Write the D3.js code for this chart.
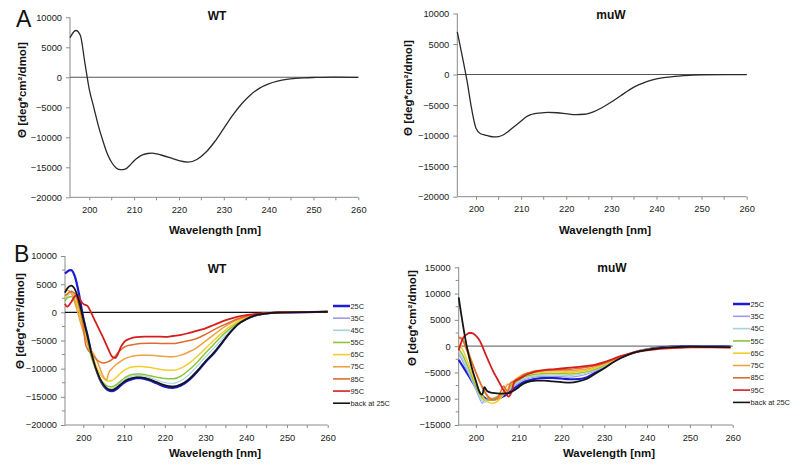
<!DOCTYPE html>
<html><head><meta charset="utf-8">
<script src="https://cdn.jsdelivr.net/npm/d3@7/dist/d3.min.js"></script>
<style>
html,body{margin:0;padding:0;background:#fff;}
svg{display:block;font-family:"Liberation Sans",Arial,sans-serif;}
</style></head>
<body>
<svg id="c" width="800" height="466"></svg>
<script>
// ---------------- DATA ----------------
const panelTitles = ["WT", "muW", "WT", "muW"];
const panelLetters = ["A", "B"];
const xTickLabels = [200, 210, 220, 230, 240, 250, 260];
const yTicksTop = [10000, 5000, 0, -5000, -10000, -15000, -20000];
const yTicksBWT = [10000, 5000, 0, -5000, -10000, -15000, -20000];
const yTicksBmuW = [15000, 10000, 5000, 0, -5000, -10000, -15000];
const seriesNames = ["25C", "35C", "45C", "55C", "65C", "75C", "85C", "95C", "back at 25C"];
const seriesColors = ["#1c1cd6", "#9a9aee", "#a3d4da", "#8dc43c", "#f3cd2e", "#eea042", "#de6c2c", "#d41e1e", "#151515"];

// Panel A, WT  [wavelength nm, theta]
const topWT = [[195.7,6600],[196,7000],[197,7800],[198,7000],[199,2500],[200,-2000],[201,-5000],[202,-8000],[203,-10500],[204,-12700],[205,-14200],[206,-15100],[207,-15400],[208,-15300],[209,-14700],[210,-13900],[211,-13300],[212,-12900],[213,-12700],[214,-12650],[215,-12750],[216,-12950],[218,-13400],[220,-13900],[222,-14150],[224,-13700],[226,-12500],[228,-10700],[230,-8500],[232,-6300],[234,-4400],[236,-2900],[238,-1800],[240,-1100],[242,-650],[244,-350],[246,-180],[248,-80],[250,-30],[252,0],[255,20],[260,-20]];
// Panel A, muW
const topMuW = [[195.85,7000],[197,2800],[198,-1000],[199,-5500],[200,-8800],[201,-9700],[202,-9900],[203,-10100],[204,-10200],[205,-10150],[206,-9900],[207,-9400],[208,-8800],[209,-8200],[210,-7600],[211,-7000],[212,-6600],[213,-6400],[214,-6300],[216,-6200],[218,-6250],[220,-6400],[222,-6550],[224,-6500],[226,-6100],[228,-5400],[230,-4500],[232,-3500],[234,-2500],[236,-1700],[238,-1100],[240,-700],[242,-450],[244,-300],[246,-180],[248,-80],[250,-30],[255,0],[260,0]];

// Panel B, WT
const wt25 = [[195.5,6900],[196,7200],[196.5,7450],[197,7500],[198,6200],[199,3000],[200,-1000],[201,-4000],[202,-7200],[203,-9800],[204,-11800],[205,-13100],[206,-13800],[207,-14000],[208,-13700],[209,-13100],[210,-12500],[211,-12100],[212,-11850],[213,-11700],[214,-11700],[215,-11800],[216,-12000],[218,-12600],[220,-13200],[222,-13400],[224,-13000],[226,-12000],[228,-10500],[230,-8800],[232,-7300],[234,-5500],[236,-3600],[238,-2100],[240,-1200],[242,-600],[244,-300],[246,-120],[248,-30],[250,0],[255,50],[260,100]];
const wt35 = [[195.5,2500],[196,3200],[197,3800],[198,3000],[199,800],[200,-2200],[201,-5000],[202,-7800],[203,-10000],[204,-11800],[205,-13000],[206,-13600],[207,-13800],[208,-13500],[209,-12900],[210,-12300],[211,-11900],[212,-11600],[213,-11500],[214,-11500],[215,-11600],[216,-11800],[218,-12400],[220,-12900],[222,-13100],[224,-12700],[226,-11700],[228,-10200],[230,-8600],[232,-7100],[234,-5400],[236,-3550],[238,-2050],[240,-1150],[242,-600],[244,-300],[246,-120],[248,-30],[250,0],[255,50],[260,100]];
const wt45 = [[195.5,2200],[196,2800],[197,3300],[198,2600],[199,500],[200,-2500],[201,-5300],[202,-7900],[203,-10000],[204,-11700],[205,-12800],[206,-13400],[207,-13500],[208,-13200],[209,-12600],[210,-12000],[211,-11600],[212,-11300],[213,-11200],[214,-11200],[215,-11300],[216,-11500],[218,-12000],[220,-12450],[222,-12600],[224,-12100],[226,-11000],[228,-9500],[230,-7900],[232,-6400],[234,-4800],[236,-3250],[238,-2000],[240,-1100],[242,-580],[244,-280],[246,-110],[248,-30],[250,0],[255,50],[260,100]];
const wt55 = [[195.5,2000],[196,2500],[197,2800],[198,2000],[199,0],[200,-2800],[201,-5500],[202,-8000],[203,-10000],[204,-11600],[205,-12600],[206,-13100],[207,-13200],[208,-12900],[209,-12300],[210,-11700],[211,-11300],[212,-11050],[213,-10950],[214,-10950],[215,-11050],[216,-11200],[218,-11500],[220,-11750],[222,-11800],[224,-11300],[226,-10200],[228,-8800],[230,-7200],[232,-5700],[234,-4200],[236,-2900],[238,-1800],[240,-1050],[242,-550],[244,-270],[246,-100],[248,-30],[250,0],[255,50],[260,100]];
const wt65 = [[195.5,2500],[196,3200],[197,3600],[198,2500],[199,300],[200,-2500],[201,-5000],[202,-7300],[203,-9300],[204,-10800],[205,-11800],[206,-12200],[207,-12100],[208,-11600],[209,-10900],[210,-10300],[211,-9900],[212,-9700],[213,-9600],[214,-9600],[215,-9650],[216,-9750],[218,-10000],[220,-10250],[222,-10300],[224,-9900],[226,-9000],[228,-7800],[230,-6400],[232,-5000],[234,-3700],[236,-2500],[238,-1600],[240,-950],[242,-500],[244,-250],[246,-100],[248,-30],[250,0],[255,50],[260,100]];
const wt75 = [[195.5,4200],[196,4000],[197,3500],[198,1500],[199,-1000],[200,-3500],[201,-5500],[202,-6800],[203,-8000],[204,-9800],[205,-11500],[205.7,-12000],[206.2,-10800],[207,-10000],[208,-9300],[209,-8800],[210,-8300],[212,-7800],[214,-7600],[216,-7600],[218,-7700],[220,-7850],[222,-7900],[224,-7600],[226,-7000],[228,-6200],[230,-5100],[232,-4000],[234,-2900],[236,-2000],[238,-1300],[240,-800],[242,-450],[244,-220],[246,-100],[248,-30],[250,0],[255,50],[260,100]];
const wt85 = [[195.5,3000],[196,3200],[197,3700],[198,3300],[199,1000],[200,-2500],[200.5,-5500],[201,-6500],[202,-7300],[203,-8200],[204,-8800],[205,-9000],[206,-8800],[207,-8400],[208,-7600],[209,-6800],[210,-6200],[211,-5900],[212,-5750],[214,-5550],[216,-5500],[218,-5500],[220,-5550],[222,-5550],[224,-5300],[226,-5000],[228,-4600],[230,-3900],[232,-3100],[234,-2400],[236,-1750],[238,-1150],[240,-700],[242,-400],[244,-200],[246,-100],[248,-30],[250,0],[255,50],[260,100]];
const wt95 = [[195.5,1500],[196,1000],[197,1800],[198,2900],[198.5,3050],[199,2600],[199.5,1900],[200,1500],[201,1150],[202,-200],[203,-1700],[204,-3200],[205,-4700],[206,-6300],[207,-7800],[207.8,-8100],[208.5,-7400],[209,-6500],[210,-5300],[211,-4800],[212,-4550],[213,-4400],[215,-4300],[218,-4300],[220,-4350],[222,-4200],[224,-4000],[226,-3650],[228,-3250],[230,-2850],[232,-2250],[234,-1650],[236,-1150],[238,-750],[240,-480],[242,-300],[244,-180],[246,-100],[248,-40],[250,0],[255,50],[260,100]];
const wtBack = [[195.5,3500],[196,4200],[197,4750],[198,4000],[199,1800],[200,-1200],[201,-4200],[202,-7300],[203,-9800],[204,-11700],[205,-12900],[206,-13600],[207,-13800],[208,-13500],[209,-12900],[210,-12300],[211,-11900],[212,-11700],[213,-11550],[214,-11550],[215,-11650],[216,-11850],[218,-12400],[220,-12950],[222,-13200],[224,-12800],[226,-11850],[228,-10400],[230,-8700],[232,-7200],[234,-5400],[236,-3600],[238,-2100],[240,-1200],[242,-600],[244,-300],[246,-120],[248,-30],[250,0],[255,50],[260,100]];

// Panel B, muW
const mu25 = [[196,-2600],[197,-3900],[198,-5200],[199,-6500],[200,-7800],[201,-9000],[202,-9800],[203,-10200],[204,-10200],[205,-10000],[206,-9700],[207,-9300],[208,-8700],[209,-8000],[210,-7400],[211,-6900],[212,-6600],[213,-6400],[214,-6200],[216,-6050],[218,-6050],[220,-6150],[222,-6300],[224,-6250],[226,-5900],[228,-5000],[230,-4000],[232,-3000],[234,-2100],[236,-1450],[238,-950],[240,-600],[242,-350],[244,-200],[246,-100],[248,-50],[250,0],[255,0],[259.5,-100]];
const mu35 = [[196,-1500],[197,-3000],[198,-4700],[199,-6500],[200,-8300],[201,-10200],[201.5,-10900],[202,-10300],[203,-10000],[204,-9900],[205,-9700],[206,-9400],[207,-8900],[208,-8300],[209,-7600],[210,-7000],[211,-6500],[212,-6200],[213,-6000],[214,-5850],[216,-5750],[218,-5750],[220,-5800],[222,-5900],[224,-5700],[226,-5300],[228,-4700],[230,-3900],[232,-3000],[234,-2150],[236,-1450],[238,-950],[240,-600],[242,-380],[244,-230],[246,-130],[248,-80],[250,-50],[255,-50],[259.5,-100]];
const mu45 = [[196,-1000],[197,-2500],[198,-4200],[199,-6100],[200,-8000],[201,-9800],[202,-10700],[203,-10300],[204,-10000],[205,-9700],[206,-9300],[207,-8800],[208,-8100],[209,-7400],[210,-6800],[211,-6300],[212,-6000],[213,-5800],[214,-5650],[216,-5550],[218,-5500],[220,-5550],[222,-5600],[224,-5450],[226,-5100],[228,-4550],[230,-3800],[232,-2950],[234,-2150],[236,-1450],[238,-950],[240,-620],[242,-400],[244,-250],[246,-150],[248,-100],[250,-70],[255,-70],[259.5,-120]];
const mu55 = [[196,-500],[197,-1800],[198,-3600],[199,-5600],[200,-7600],[201,-9300],[202,-10200],[203,-10300],[204,-10000],[205,-9600],[206,-9100],[207,-8500],[208,-7800],[209,-7100],[210,-6500],[211,-6000],[212,-5700],[213,-5500],[214,-5350],[216,-5250],[218,-5200],[220,-5250],[222,-5300],[224,-5150],[226,-4850],[228,-4350],[230,-3650],[232,-2900],[234,-2100],[236,-1450],[238,-950],[240,-640],[242,-420],[244,-270],[246,-170],[248,-120],[250,-90],[255,-90],[259.5,-150]];
const mu65 = [[196,500],[197,-800],[198,-2800],[199,-4900],[200,-7000],[201,-8800],[202,-10000],[203,-10700],[204,-10900],[205,-10500],[206,-9700],[207,-8600],[208,-7600],[209,-6800],[210,-6200],[211,-5700],[212,-5400],[213,-5200],[214,-5050],[216,-4950],[218,-4900],[220,-4950],[222,-5000],[224,-4850],[226,-4600],[228,-4150],[230,-3500],[232,-2800],[234,-2050],[236,-1450],[238,-980],[240,-660],[242,-440],[244,-290],[246,-190],[248,-140],[250,-110],[255,-110],[259.5,-180]];
const mu75 = [[196,1500],[197,1200],[198,-500],[199,-2700],[200,-4900],[201,-7000],[202,-8700],[203,-9900],[204,-10300],[205,-10100],[206,-9200],[207,-7800],[207.5,-7200],[208,-7500],[208.5,-7000],[209,-6500],[210,-5900],[211,-5400],[212,-5100],[213,-4950],[214,-4800],[216,-4700],[218,-4650],[220,-4650],[222,-4700],[224,-4550],[226,-4350],[228,-3900],[230,-3300],[232,-2650],[234,-1950],[236,-1400],[238,-980],[240,-680],[242,-460],[244,-310],[246,-210],[248,-160],[250,-130],[255,-130],[259.5,-200]];
const mu85 = [[196,1700],[196.5,1600],[197,1000],[198,-1000],[199,-3000],[200,-5000],[201,-6900],[202,-8500],[203,-9700],[204,-10200],[205,-9900],[206,-8300],[206.5,-7600],[207,-8200],[207.5,-8600],[208,-7100],[209,-6600],[210,-6100],[211,-5600],[212,-5200],[213,-4900],[214,-4700],[216,-4550],[218,-4500],[220,-4450],[222,-4400],[224,-4200],[226,-4000],[228,-3700],[230,-3200],[232,-2600],[234,-1950],[236,-1400],[238,-1000],[240,-700],[242,-500],[244,-350],[246,-250],[248,-200],[250,-160],[255,-160],[259.5,-250]];
const mu95 = [[196,-800],[196.5,500],[197,1500],[198,2300],[198.5,2500],[199,2500],[200,2000],[201,900],[202,-1000],[203,-2900],[204,-4700],[205,-6200],[206,-7700],[207,-9000],[207.6,-9600],[208.3,-8800],[209,-6800],[210,-6300],[211,-5800],[212,-5400],[213,-5100],[214,-4850],[216,-4550],[218,-4400],[220,-4250],[222,-4100],[224,-3950],[226,-3750],[228,-3500],[230,-3050],[232,-2450],[234,-1850],[236,-1400],[238,-1050],[240,-800],[242,-600],[244,-450],[246,-350],[248,-300],[250,-250],[255,-250],[259.5,-300]];
const muBack = [[196,9300],[197,4000],[198,-500],[199,-3900],[200,-6600],[201,-8900],[201.5,-9200],[202,-7800],[202.5,-8400],[203,-8700],[204,-8900],[205,-9000],[206,-9050],[207,-9000],[208,-8800],[209,-8400],[210,-7800],[211,-7200],[212,-6850],[213,-6650],[214,-6550],[216,-6550],[218,-6700],[220,-6850],[222,-6950],[224,-6700],[226,-6200],[228,-5200],[230,-4200],[232,-3100],[234,-2200],[236,-1500],[238,-1000],[240,-700],[242,-450],[244,-300],[246,-200],[248,-150],[250,-100],[255,-150],[259.5,-200]];

const wtSeries = [wt25, wt35, wt45, wt55, wt65, wt75, wt85, wt95, wtBack];
const muSeries = [mu25, mu35, mu45, mu55, mu65, mu75, mu85, mu95, muBack];

// ---------------- DRAW ----------------
const svg = d3.select("#c");
const FONT = "'Liberation Sans', Arial, sans-serif";
const lineWidths = [2.2, 1.1, 1.1, 1.5, 1.5, 1.5, 1.5, 1.8, 1.8];

const panels = [
  {title: panelTitles[0], xr:[70,358.3], xd:[195.7,260], yr:[197.3,17.3], yd:[-20000,10000], yt:yTicksTop, minor:false,
   tx:217, ty:19.5, ylx:22, yly:90, xlx:215, xly:234, zero:"#555", series:[topWT], colors:["#2a2a2a"], widths:[1.3], legend:false},
  {title: panelTitles[1], xr:[457.3,746.7], xd:[195.85,260], yr:[196.7,13.5], yd:[-20000,10000], yt:yTicksTop, minor:false,
   tx:611, ty:18.5, ylx:408, yly:88, xlx:605, xly:234, zero:"#555", series:[topMuW], colors:["#2a2a2a"], widths:[1.3], legend:false},
  {title: panelTitles[2], xr:[65,327.7], xd:[195.5,260], yr:[425,256], yd:[-20000,10000], yt:yTicksBWT, minor:true,
   tx:217, ty:273, ylx:20, yly:321, xlx:215, xly:457, zero:"#111", series:wtSeries, colors:seriesColors, widths:lineWidths, legend:{x:333, y0:306, dy:12.15}},
  {title: panelTitles[3], xr:[458.7,732.7], xd:[196,260], yr:[425,267.3], yd:[-15000,15000], yt:yTicksBmuW, minor:true,
   tx:612, ty:272, ylx:412, yly:318, xlx:609, xly:457, zero:"#777", series:muSeries, colors:seriesColors, widths:lineWidths, legend:{x:733, y0:304, dy:12.3}}
];

panels.forEach(p => {
  const x = d3.scaleLinear().domain(p.xd).range(p.xr);
  const y = d3.scaleLinear().domain(p.yd).range(p.yr);
  const g = svg.append("g");

  // y axis
  const ya = d3.axisLeft(y).tickValues(p.yt).tickSize(4).tickPadding(4).tickFormat(d3.format("d"));
  const yg = g.append("g").attr("transform", `translate(${p.xr[0]},0)`).call(ya);
  // x axis
  const xa = d3.axisBottom(x).tickValues(xTickLabels).tickSize(3).tickPadding(6).tickFormat(d3.format("d"));
  const xg = g.append("g").attr("transform", `translate(0,${p.yr[0]})`).call(xa);
  [yg, xg].forEach(a => {
    a.select(".domain").attr("stroke", "#8a8a8a").attr("stroke-width", 1);
    a.selectAll(".tick line").attr("stroke", "#8a8a8a");
    a.selectAll("text").attr("font-family", FONT).attr("font-size", 9.3).attr("fill", "#222");
  });
  xg.select(".domain").attr("d", `M${p.xr[0]},0H${p.xr[1]}`);
  yg.select(".domain").attr("d", `M0,${p.yr[0]}V${p.yr[1]}`);
  // minor x ticks every 5 nm
  const mx = d3.range(205, 260, 10);
  g.append("g").selectAll("line").data(mx).join("line")
    .attr("x1", d => x(d)).attr("x2", d => x(d))
    .attr("y1", p.yr[0]).attr("y2", p.yr[0] + 3).attr("stroke", "#8a8a8a");
  if (p.minor) {
    const step = 2500;
    const my = d3.range(p.yd[0] + step, p.yd[1], 5000);
    g.append("g").selectAll("line").data(my).join("line")
      .attr("x1", p.xr[0] - 3).attr("x2", p.xr[0])
      .attr("y1", d => y(d)).attr("y2", d => y(d)).attr("stroke", "#8a8a8a");
  }

  // zero line
  g.append("line").attr("x1", p.xr[0]).attr("x2", p.xr[1]).attr("y1", y(0)).attr("y2", y(0))
    .attr("stroke", p.zero).attr("stroke-width", 1.1);

  // curves
  const line = d3.line().x(d => x(d[0])).y(d => y(d[1])).curve(d3.curveMonotoneX);
  p.series.forEach((s, i) => {
    g.append("path").datum(s).attr("d", line).attr("fill", "none")
      .attr("stroke", p.colors[i]).attr("stroke-width", p.widths[i]).attr("stroke-linejoin", "round");
  });

  // title
  g.append("text").attr("x", p.tx).attr("y", p.ty).attr("text-anchor", "middle")
    .attr("font-family", FONT).attr("font-weight", "bold").attr("font-size", 12).attr("fill", "#111").text(p.title);
  // y label
  g.append("text").attr("transform", `translate(${p.ylx + 4},${p.yly}) rotate(-90)`).attr("text-anchor", "middle")
    .attr("font-family", FONT).attr("font-weight", "bold").attr("font-size", 11.5).attr("fill", "#111")
    .text("Θ [deg*cm²/dmol]");
  // x label
  g.append("text").attr("x", p.xlx).attr("y", p.xly).attr("text-anchor", "middle")
    .attr("font-family", FONT).attr("font-weight", "bold").attr("font-size", 11.5).attr("fill", "#111")
    .text("Wavelength [nm]");

  // legend
  if (p.legend) {
    const L = p.legend;
    seriesNames.forEach((n, i) => {
      const yy = L.y0 + i * L.dy;
      g.append("line").attr("x1", L.x).attr("x2", L.x + 17).attr("y1", yy).attr("y2", yy)
        .attr("stroke", seriesColors[i]).attr("stroke-width", i === 0 ? 2.5 : 1.6);
      g.append("text").attr("x", L.x + 17.5).attr("y", yy + 2.6).attr("font-family", FONT)
        .attr("font-size", 7.4).attr("fill", "#222").text(n);
    });
  }
});

// panel letters
svg.append("text").attr("x", 16).attr("y", 27).attr("font-family", FONT).attr("font-size", 23).attr("fill", "#111").text(panelLetters[0]);
svg.append("text").attr("x", 14).attr("y", 262).attr("font-family", FONT).attr("font-size", 23).attr("fill", "#111").text(panelLetters[1]);
</script>
</body></html>
